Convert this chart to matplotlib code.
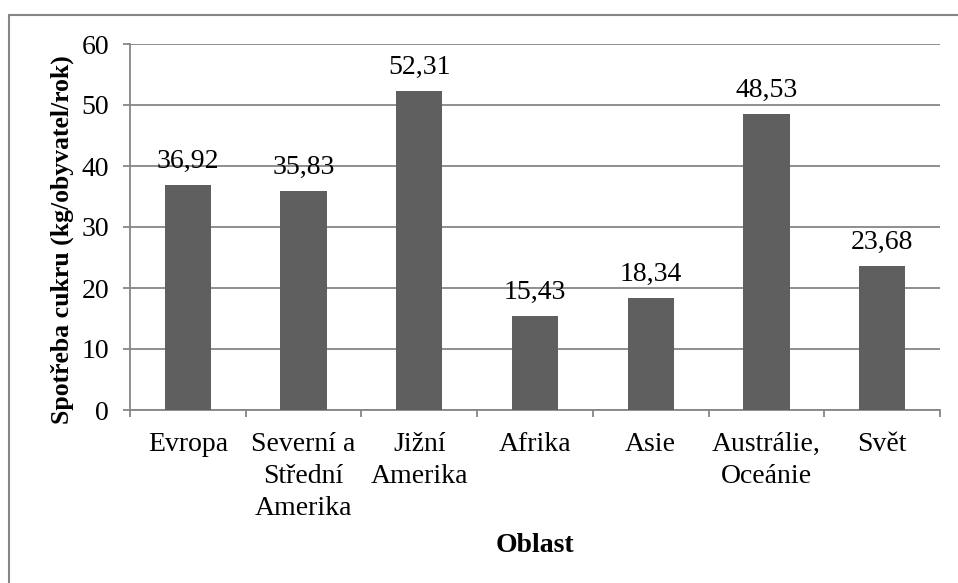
import matplotlib
matplotlib.use("Agg")
import matplotlib.pyplot as plt
from matplotlib.patches import Rectangle
import numpy as np

# Sugar consumption per region
regions = ["Evropa", "Severní a\nStřední\nAmerika", "Jižní\nAmerika", "Afrika",
           "Asie", "Austrálie,\nOceánie", "Svět"]
consumption = [36.92, 35.83, 52.31, 15.43, 18.34, 48.53, 23.68]
value_labels = ["36,92", "35,83", "52,31", "15,43", "18,34", "48,53", "23,68"]
y_ticks = [0, 10, 20, 30, 40, 50, 60]

plt.rcParams["font.family"] = ["Liberation Serif", "DejaVu Serif"]

fig = plt.figure(figsize=(9.58, 5.83), dpi=100)
ax = fig.add_axes([130 / 958, 1 - 410 / 583, 810 / 958, 366 / 583])

axis_gray = "#868686"
bar_color = "#5f5f5f"
fs = 20

x = np.arange(len(regions))
bars = ax.bar(x, consumption, width=0.4, color=bar_color, zorder=3)

for xi, v, lab in zip(x, consumption, value_labels):
    ax.annotate(lab, (xi, v), xytext=(0, 8), textcoords="offset points",
                ha="center", va="bottom", fontsize=fs, color="black")

ax.set_xlim(-0.5, len(regions) - 0.5)
ax.set_ylim(0, 60)
ax.set_yticks(y_ticks)
ax.set_yticklabels([str(t) for t in y_ticks], fontsize=fs)
ax.yaxis.grid(True, color=axis_gray, linewidth=1.3, zorder=0)
ax.set_axisbelow(True)

ax.set_xticks(x)
ax.set_xticklabels(regions, fontsize=fs, linespacing=1.35)
ax.set_xticks(np.arange(-0.5, len(regions)), minor=True)
ax.tick_params(axis="x", which="major", length=0, pad=16)
ax.tick_params(axis="x", which="minor", length=5, width=1.3, color=axis_gray, direction="out")
ax.tick_params(axis="y", length=5, width=1.3, color=axis_gray, direction="out", pad=10)

for s in ["top", "right"]:
    ax.spines[s].set_visible(False)
for s in ["left", "bottom"]:
    ax.spines[s].set_color(axis_gray)
    ax.spines[s].set_linewidth(1.3)

fig.text(62 / 958, 1 - 240 / 583, "Spotřeba cukru (kg/obyvatel/rok)", rotation=90,
         ha="center", va="center", fontsize=18.5, fontweight="bold")
fig.text(535 / 958, 1 - 545 / 583, "Oblast", ha="center", va="center",
         fontsize=fs, fontweight="bold")

# Chart frame
fig.patches.append(Rectangle((8.5 / 958, -0.05), 1.0, 1 - 15 / 583 + 0.05,
                             transform=fig.transFigure, fill=False,
                             edgecolor=axis_gray, linewidth=1.5))

fig.savefig("out.png", dpi=100)
